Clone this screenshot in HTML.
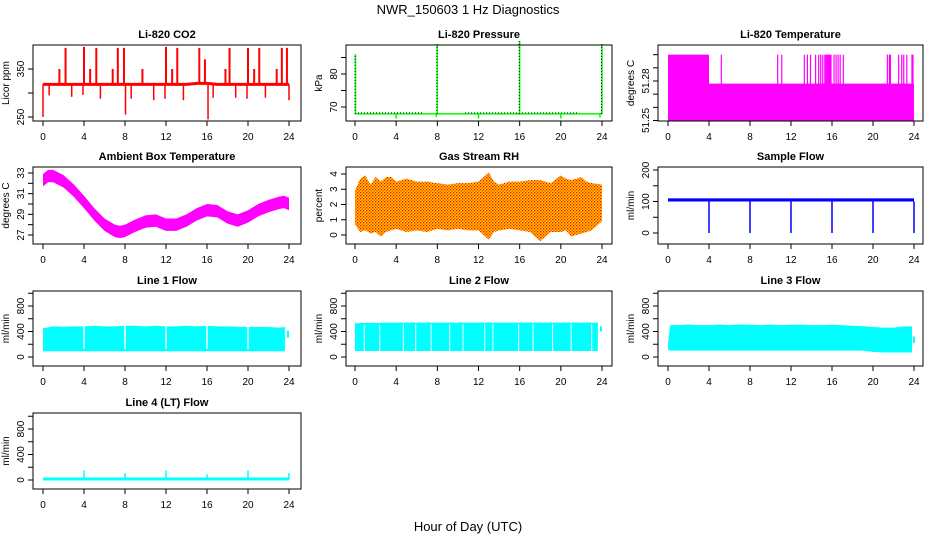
<!DOCTYPE html>
<html><head><meta charset="utf-8"><style>
html,body{margin:0;padding:0;background:#fff;}
svg{display:block;font-family:"Liberation Sans",sans-serif;}
</style></head><body>
<svg id="c" width="936" height="540" viewBox="0 0 936 540" xmlns="http://www.w3.org/2000/svg">
<defs>
<pattern id="rhpat" width="3" height="3" patternUnits="userSpaceOnUse"><rect width="3" height="3" fill="#ffd000"/><rect x="0" y="0" width="1.3" height="1.3" fill="#f00"/><rect x="1.5" y="1.5" width="1.3" height="1.3" fill="#ff2000"/></pattern>
</defs>
<text x="468" y="14" text-anchor="middle" font-size="13">NWR_150603  1 Hz Diagnostics</text>
<text x="468" y="531" text-anchor="middle" font-size="13">Hour of Day (UTC)</text>
</svg>
<script>
// ---- data ----
const xTicks = [0,4,8,12,16,20,24];
const co2Base = [318,318,318,318,318,318,318,318,318,318,318,318,318,318,318,320,320,318,318,318,318,318,318,318,318];
const co2SpikeHours = [2.2,4.0,5.2,7.3,7.9,12.0,13.1,15.25,18.2,20.0,21.1,23.3,23.8,1.6,4.6,6.8,9.7,12.6,17.8,20.6,22.8,15.8];
const co2SpikeVals  = [394,396,394,394,394,396,394,394,394,394,394,394,394,350,350,350,350,350,350,350,350,370];
const co2DipHours = [0.0,0.6,2.8,3.9,5.6,8.05,8.6,10.8,11.9,13.7,16.1,16.6,18.8,19.9,21.7,24.0];
const co2DipVals  = [250,295,292,296,288,255,288,285,288,285,245,290,290,288,290,285];
const pressBase = 67.9;
const pressSpikeHours = [0.05,8.0,16.0,24.0];
const pressSpikeVals = [86,89,90,89];
const pressDipHours = [4,12,20,7.9,23.8];
const pressDipVals = [66.5,66.5,66.5,67,66.8];
const tempLevelHours = [0,4,24];
const tempLevelVals = [51.300,51.278];
const tempSpikeHours = [5.2,10.7,11.1,13.3,13.6,13.9,14.4,14.7,14.9,15.1,15.3,15.4,15.5,15.6,15.7,15.8,15.9,16.2,16.4,16.6,16.8,17.1,21.4,21.6,21.7,22.5,22.8,23.0,23.3,23.8,23.9];
const tempSpikeVals = [51.3,51.3,51.3,51.3,51.3,51.3,51.3,51.3,51.3,51.3,51.3,51.3,51.3,51.3,51.3,51.3,51.3,51.3,51.3,51.3,51.3,51.3,51.3,51.3,51.3,51.3,51.3,51.3,51.3,51.3,51.3];
const ambHours = [0,0.5,1,2,3,4,5,6,7,7.5,8,9,10,11,12,13,14,15,16,17,18,19,20,21,22,23,23.5,24];
const ambVals  = [32.3,32.7,32.7,32.2,31.3,30.2,29.0,28.0,27.4,27.3,27.4,27.9,28.3,28.4,28.0,28.0,28.4,29.0,29.4,29.3,28.7,28.4,28.8,29.4,29.8,30.1,30.2,30.0];
const rhHours = [0,0.5,1,1.5,2,2.5,3,3.5,4,5,6,7,8,9,10,11,12,13,13.5,14,15,16,17,18,19,20,20.5,21,22,22.5,23,24];
const rhMax = [2.9,3.7,3.9,3.3,3.8,3.5,3.8,3.8,3.5,3.7,3.5,3.5,3.4,3.3,3.4,3.4,3.5,4.1,3.5,3.3,3.5,3.5,3.6,3.6,3.4,3.9,3.7,3.6,3.8,3.5,3.4,3.3];
const rhMin = [0.7,0.2,0.3,0.1,0.2,-0.1,0.2,0.3,0.4,0.2,0.3,0.2,0.4,0.3,0.4,0.3,0.3,-0.3,0.2,0.3,0.4,0.3,0.2,-0.4,0.2,0.2,0.3,-0.1,0.1,0.2,0.3,0.9];
const sampleLo = 100, sampleHi = 110;
const sampleDropHours = [4,8,12,16,20,24];
const sampleDropVals = [0,0,0,0,0,0];
const flowHours = [0,1,2,3,4,5,6,7,8,9,10,11,12,13,14,15,16,17,18,19,20,21,22,23,23.6];
const line1Hi = [450,480,475,480,480,490,480,480,490,490,480,490,480,480,490,480,490,480,480,475,470,470,470,460,470];
const line1Lo = [90,90,90,90,90,90,90,90,90,90,90,90,90,90,90,90,90,90,90,90,90,90,90,90,90];
const line1Gaps = [4,8,12,16,20];
const line1EndHour = 23.9, line1EndLo = 300, line1EndHi = 410;
const line2Hi = [530,535,535,540,540,540,540,540,540,540,540,540,540,540,540,540,540,540,540,540,540,540,540,540,540];
const line2Lo = [95,95,95,95,95,95,95,95,95,95,95,95,95,95,95,95,95,95,95,95,95,95,95,95,95];
const line2Gaps = [2.4,5.9,9.2,12.6,15.9,19.2,0.9,4.7,7.4,10.5,13.4,17.3,21.0,23.0];
const line2EndHour = 23.9, line2EndLo = 400, line2EndHi = 480;
const line3Hours = [0,0.2,1,2,3,4,5,6,7,8,9,10,11,12,13,14,15,16,17,18,19,20,21,22,23,23.8];
const line3Hi = [200,500,500,510,500,500,510,500,510,505,500,510,500,505,510,500,500,505,500,490,485,470,460,460,480,480];
const line3Lo = [120,100,100,100,100,100,100,100,100,100,100,100,100,100,100,100,100,100,100,100,100,80,70,70,70,70];
const line3EndHour = 24, line3EndLo = 220, line3EndHi = 320;
const line4Base = 15;
const line4SpikeHours = [4,8,12,16,20,24];
const line4SpikeVals = [150,110,150,90,150,110];

// ---- layout ----
const svg = document.getElementById('c');
const NS = 'http://www.w3.org/2000/svg';
const cols = [{l:33,r:301,x0:43,x24:289},{l:346,r:612,x0:355,x24:602},{l:658,r:923,x0:668,x24:914}];
const rows = [{t:45,b:121},{t:167,b:244},{t:291,b:366},{t:413,b:489}];
function mk(tag, attrs, parent){const e=document.createElementNS(NS,tag);for(const k in attrs)e.setAttribute(k,attrs[k]);(parent||svg).appendChild(e);return e;}
function panel(name,title,ci,ri,yl,v1,p1,v2,p2,ticks,labels,fmt){
  const c=cols[ci], r=rows[ri];
  const g=mk('g',{});
  
  
  const X=h=>c.x0+(h/24)*(c.x24-c.x0);
  const Y=v=>p1+(v-v1)*(p2-p1)/(v2-v1);
  const data=mk('g',{},g);
  
  
  const box=mk('rect',{x:c.l,y:r.t,width:c.r-c.l,height:r.b-r.t,fill:'none',stroke:'#000','stroke-width':1},g);
  
  
  const t=mk('text',{x:(c.l+c.r)/2,y:r.t-7,'text-anchor':'middle','font-size':11,'font-weight':'bold'},g);
  t.textContent=title;
  
  
  const xa=mk('g',{},g);
  
  
  xTicks.forEach(h=>{
    mk('line',{x1:X(h),x2:X(h),y1:r.b,y2:r.b+5,stroke:'#000'},xa);
    const tl=mk('text',{x:X(h),y:r.b+19,'text-anchor':'middle','font-size':10},xa);
    tl.textContent=h;
  });
  mk('line',{x1:X(0),x2:X(24),y1:r.b,y2:r.b,stroke:'#000'},xa);
  const ya=mk('g',{},g);
  
  
  ticks.forEach(v=>{
    mk('line',{x1:c.l,x2:c.l-5,y1:Y(v),y2:Y(v),stroke:'#000'},ya);
  });
  labels.forEach(v=>{
    const tx=c.l-9, ty=Y(v);
    const tl=mk('text',{x:tx,y:ty,'text-anchor':'middle','font-size':10,transform:`rotate(-90 ${tx} ${ty})`},ya);
    tl.textContent=fmt?fmt(v):v;
  });
  const lx=c.l-24, ly=(r.t+r.b)/2;
  const yt=mk('text',{x:lx,y:ly,'text-anchor':'middle','font-size':10,transform:`rotate(-90 ${lx} ${ly})`},ya);
  yt.textContent=yl;
  
  
  return {g:data,X,Y};
}
function vline(p,h,v1,v2,col,w){return mk('line',{x1:p.X(h),x2:p.X(h),y1:p.Y(v1),y2:p.Y(v2),stroke:col,'stroke-width':w||1.5},p.g);}
function band(p,hours,hi,lo,fill){
  let pts=hours.map((h,i)=>p.X(h)+','+p.Y(hi[i]));
  pts=pts.concat(hours.slice().reverse().map((h,i)=>p.X(h)+','+p.Y(lo[hours.length-1-i])));
  return mk('polygon',{points:pts.join(' '),fill:fill},p.g);
}

// CO2
let p=panel('co2','Li-820 CO2',0,0,'Licor ppm',250,117,350,69,[250,300,350],[250,350]);
mk('polyline',{points:co2Base.map((v,i)=>p.X(i)+','+p.Y(v)).join(' '),fill:'none',stroke:'#f00','stroke-width':3},p.g);
co2SpikeHours.forEach((h,i)=>vline(p,h,co2Base[Math.round(h)],co2SpikeVals[i],'#f00',2));
co2DipHours.forEach((h,i)=>vline(p,h,co2Base[Math.round(h)],co2DipVals[i],'#f00',1.5));

// Pressure
p=panel('pressure','Li-820 Pressure',1,0,'kPa',70,107,80,74,[70,75,80,85],[70,80]);
mk('line',{x1:p.X(0),x2:p.X(24),y1:p.Y(pressBase),y2:p.Y(pressBase),stroke:'#0f0','stroke-width':1.5},p.g);
mk('line',{x1:p.X(0),x2:p.X(6.6),y1:p.Y(pressBase)-1,y2:p.Y(pressBase)-1,stroke:'#000','stroke-width':1,'stroke-dasharray':'1 2'},p.g);
mk('line',{x1:p.X(10.7),x2:p.X(21.8),y1:p.Y(pressBase)-1,y2:p.Y(pressBase)-1,stroke:'#000','stroke-width':1,'stroke-dasharray':'1 2'},p.g);
pressSpikeHours.forEach((h,i)=>{vline(p,h,pressBase,pressSpikeVals[i],'#0f0',1.5);mk('line',{x1:p.X(h)-0.5,x2:p.X(h)-0.5,y1:p.Y(pressBase),y2:p.Y(pressSpikeVals[i]),stroke:'#000','stroke-width':1,'stroke-dasharray':'1 2'},p.g);});
pressDipHours.forEach((h,i)=>vline(p,h,pressBase,pressDipVals[i],'#0f0',1.5));

// Li-820 temperature
p=panel('li820-temp','Li-820 Temperature',2,0,'degrees C',51.25,120.5,51.28,81,[51.25,51.26,51.27,51.28,51.29,51.30],[51.25,51.28],v=>v.toFixed(2));
for(let i=0;i<tempLevelVals.length;i++){
  const x1=p.X(tempLevelHours[i]),x2=p.X(tempLevelHours[i+1]);
  mk('rect',{x:x1,y:p.Y(tempLevelVals[i]),width:x2-x1,height:p.Y(51.2495)-p.Y(tempLevelVals[i]),fill:'#f0f'},p.g);
}
tempSpikeHours.forEach((h,i)=>vline(p,h,51.2495,tempSpikeVals[i],'#f0f',1.2));

// Ambient
p=panel('ambient-temp','Ambient Box Temperature',0,1,'degrees C',27,235,33,173,[27,28,29,30,31,32,33],[27,29,31,33]);
band(p,ambHours,ambVals.map(v=>v+0.6),ambVals.map(v=>v-0.6),'#f0f');

// RH
p=panel('gas-rh','Gas Stream RH',1,1,'percent',0,235,4,174,[0,1,2,3,4],[0,1,2,3,4]);
band(p,rhHours,rhMax,rhMin,'url(#rhpat)');

// Sample flow
p=panel('sample-flow','Sample Flow',2,1,'ml/min',0,233,200,170,[0,50,100,150,200],[0,100,200]);
mk('rect',{x:p.X(0),y:p.Y(sampleHi),width:p.X(24)-p.X(0),height:p.Y(sampleLo)-p.Y(sampleHi),fill:'#00f'},p.g);
sampleDropHours.forEach((h,i)=>vline(p,h,sampleLo,sampleDropVals[i],'#00f',1.5));

// Line flows
const flowTicks=[0,200,400,600,800,1000], flowLabels=[0,400,800];
p=panel('line1-flow','Line 1 Flow',0,2,'ml/min',0,357,800,306,flowTicks,flowLabels);
band(p,flowHours,line1Hi,line1Lo,'#0ff');
line1Gaps.forEach(h=>vline(p,h,line1Lo[h]+40,line1Hi[h]+20,'#fff',1.5));
vline(p,line1EndHour,line1EndLo,line1EndHi,'#0ff',2);
p=panel('line2-flow','Line 2 Flow',1,2,'ml/min',0,357,800,306,flowTicks,flowLabels);
band(p,flowHours,line2Hi,line2Lo,'#0ff');
line2Gaps.forEach(h=>vline(p,h,line2Lo[Math.round(h)]+5,line2Hi[Math.round(h)]-30,'#fff',1));
vline(p,line2EndHour,line2EndLo,line2EndHi,'#0ff',2);
p=panel('line3-flow','Line 3 Flow',2,2,'ml/min',0,357,800,306,flowTicks,flowLabels);
band(p,line3Hours,line3Hi,line3Lo,'#0ff');
vline(p,line3EndHour,line3EndLo,line3EndHi,'#0ff',2);

// Line 4
p=panel('line4-flow','Line 4 (LT) Flow',0,3,'ml/min',0,480,800,429,flowTicks,flowLabels);
mk('line',{x1:p.X(0),x2:p.X(24),y1:p.Y(line4Base),y2:p.Y(line4Base),stroke:'#0ff','stroke-width':3},p.g);
line4SpikeHours.forEach((h,i)=>vline(p,h,line4Base,line4SpikeVals[i],'#0ff',1.5));
</script>
</body></html>
